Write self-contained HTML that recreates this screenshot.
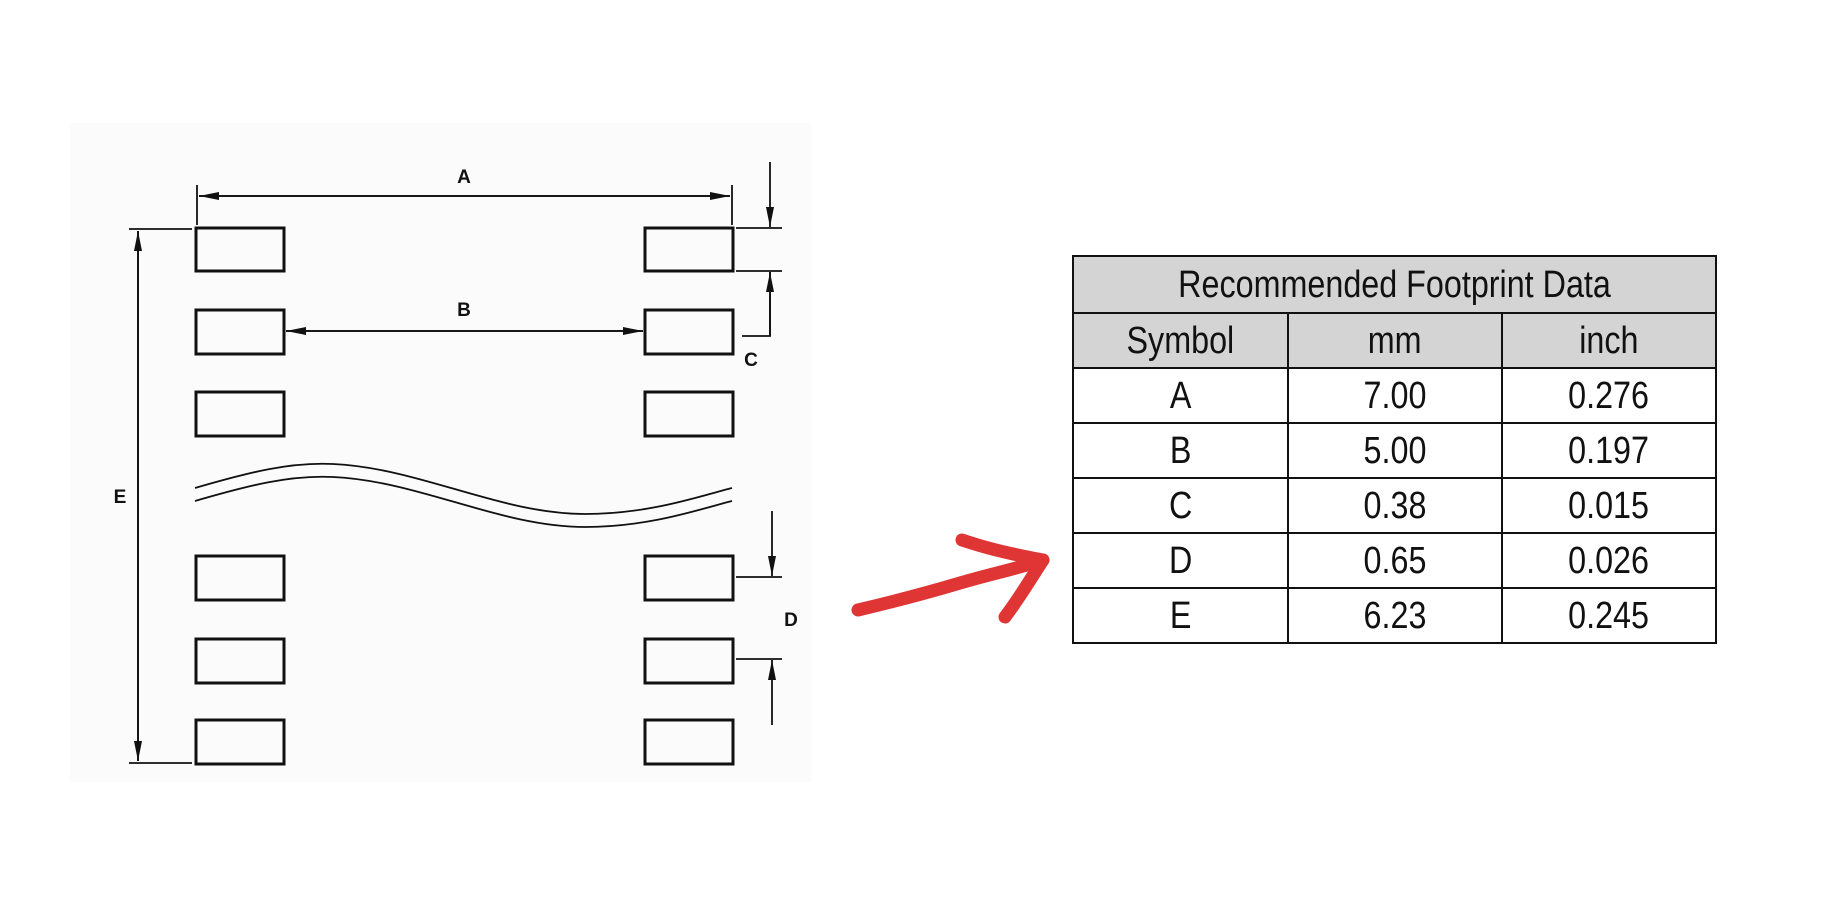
<!DOCTYPE html>
<html><head><meta charset="utf-8"><style>
html,body{margin:0;padding:0;background:#fff;width:1844px;height:898px;overflow:hidden}
svg{position:absolute;left:0;top:0}
.t{position:absolute;left:1072px;top:255px;border-collapse:collapse;font-family:"Liberation Sans Narrow","Liberation Sans",sans-serif;color:#111}
.t td{border:2.5px solid #111;text-align:center;padding:0;font-size:38px;line-height:1}
.t td span{display:inline-block;transform:scaleX(0.85)}
.g td{background:#d4d4d4}
</style></head><body>
<svg width="1844" height="898" viewBox="0 0 1844 898">
<defs>
<marker id="ar" viewBox="0 0 20 8" refX="20" refY="4" markerWidth="20" markerHeight="8" markerUnits="userSpaceOnUse" orient="auto"><path d="M0,0 L20,4 L0,8 Z" fill="#111"/></marker>
</defs>
<rect x="70" y="123" width="741" height="659" fill="#fbfbfb"/>
<g fill="none" stroke="#111" stroke-width="3">
<rect x="196" y="228" width="88" height="43"/><rect x="645" y="228" width="88" height="43"/>
<rect x="196" y="310" width="88" height="44"/><rect x="645" y="310" width="88" height="44"/>
<rect x="196" y="392" width="88" height="44"/><rect x="645" y="392" width="88" height="44"/>
<rect x="196" y="556" width="88" height="44"/><rect x="645" y="556" width="88" height="44"/>
<rect x="196" y="639" width="88" height="44"/><rect x="645" y="639" width="88" height="44"/>
<rect x="196" y="720" width="88" height="44"/><rect x="645" y="720" width="88" height="44"/>
</g>
<g fill="none" stroke="#111" stroke-width="1.8">
<line x1="197" y1="185" x2="197" y2="225"/><line x1="732" y1="185" x2="732" y2="225"/>
<line x1="199" y1="196" x2="730" y2="196" marker-end="url(#ar)"/><line x1="730" y1="196" x2="199" y2="196" marker-end="url(#ar)"/>
<line x1="286" y1="331" x2="643" y2="331" marker-end="url(#ar)"/><line x1="643" y1="331" x2="286" y2="331" marker-end="url(#ar)"/>
<line x1="129" y1="229" x2="192" y2="229"/><line x1="129" y1="763" x2="192" y2="763"/>
<line x1="138" y1="231" x2="138" y2="761" marker-end="url(#ar)"/><line x1="138" y1="761" x2="138" y2="231" marker-end="url(#ar)"/>
<line x1="736" y1="228" x2="782" y2="228"/><line x1="736" y1="271" x2="782" y2="271"/>
<line x1="770" y1="162" x2="770" y2="227" marker-end="url(#ar)"/>
<polyline points="742,336 770,336 770,272"/><line x1="770" y1="336" x2="770" y2="272" marker-end="url(#ar)"/>
<line x1="736" y1="577" x2="782" y2="577"/><line x1="736" y1="659" x2="782" y2="659"/>
<line x1="772" y1="511" x2="772" y2="576" marker-end="url(#ar)"/>
<line x1="772" y1="725" x2="772" y2="660" marker-end="url(#ar)"/>
<path d="M195,488 C250,472 290,462 333,464 C420,468 500,514 585,514 C650,514 700,496 732,488"/>
<path d="M195,501 C250,485 290,475 333,477 C420,481 500,527 585,527 C650,527 700,509 732,501"/>
</g>
<g font-family="Liberation Sans,sans-serif" font-weight="bold" font-size="19" fill="#111" text-anchor="middle">
<text x="464" y="183">A</text><text x="464" y="316">B</text><text x="751" y="366">C</text><text x="791" y="626">D</text><text x="120" y="503">E</text>
</g>
<g fill="none" stroke="#e03535" stroke-width="13" stroke-linecap="round" stroke-linejoin="round">
<path d="M858,610 C900,600 930,592 960,583 C990,574 1020,568 1043,560"/>
<path d="M962,540 C980,546 1000,552 1043,560 C1030,580 1018,600 1005,617"/>
</g>
</svg>
<table class="t">
<tr class="g"><td colspan="3" style="height:55px;width:641px"><span>Recommended Footprint Data</span></td></tr>
<tr class="g"><td style="height:53px;width:212px"><span>Symbol</span></td><td style="width:211px"><span>mm</span></td><td style="width:211px"><span>inch</span></td></tr>
<tr><td style="height:53px"><span>A</span></td><td><span>7.00</span></td><td><span>0.276</span></td></tr>
<tr><td style="height:53px"><span>B</span></td><td><span>5.00</span></td><td><span>0.197</span></td></tr>
<tr><td style="height:53px"><span>C</span></td><td><span>0.38</span></td><td><span>0.015</span></td></tr>
<tr><td style="height:53px"><span>D</span></td><td><span>0.65</span></td><td><span>0.026</span></td></tr>
<tr><td style="height:53px"><span>E</span></td><td><span>6.23</span></td><td><span>0.245</span></td></tr>
</table>
</body></html>
